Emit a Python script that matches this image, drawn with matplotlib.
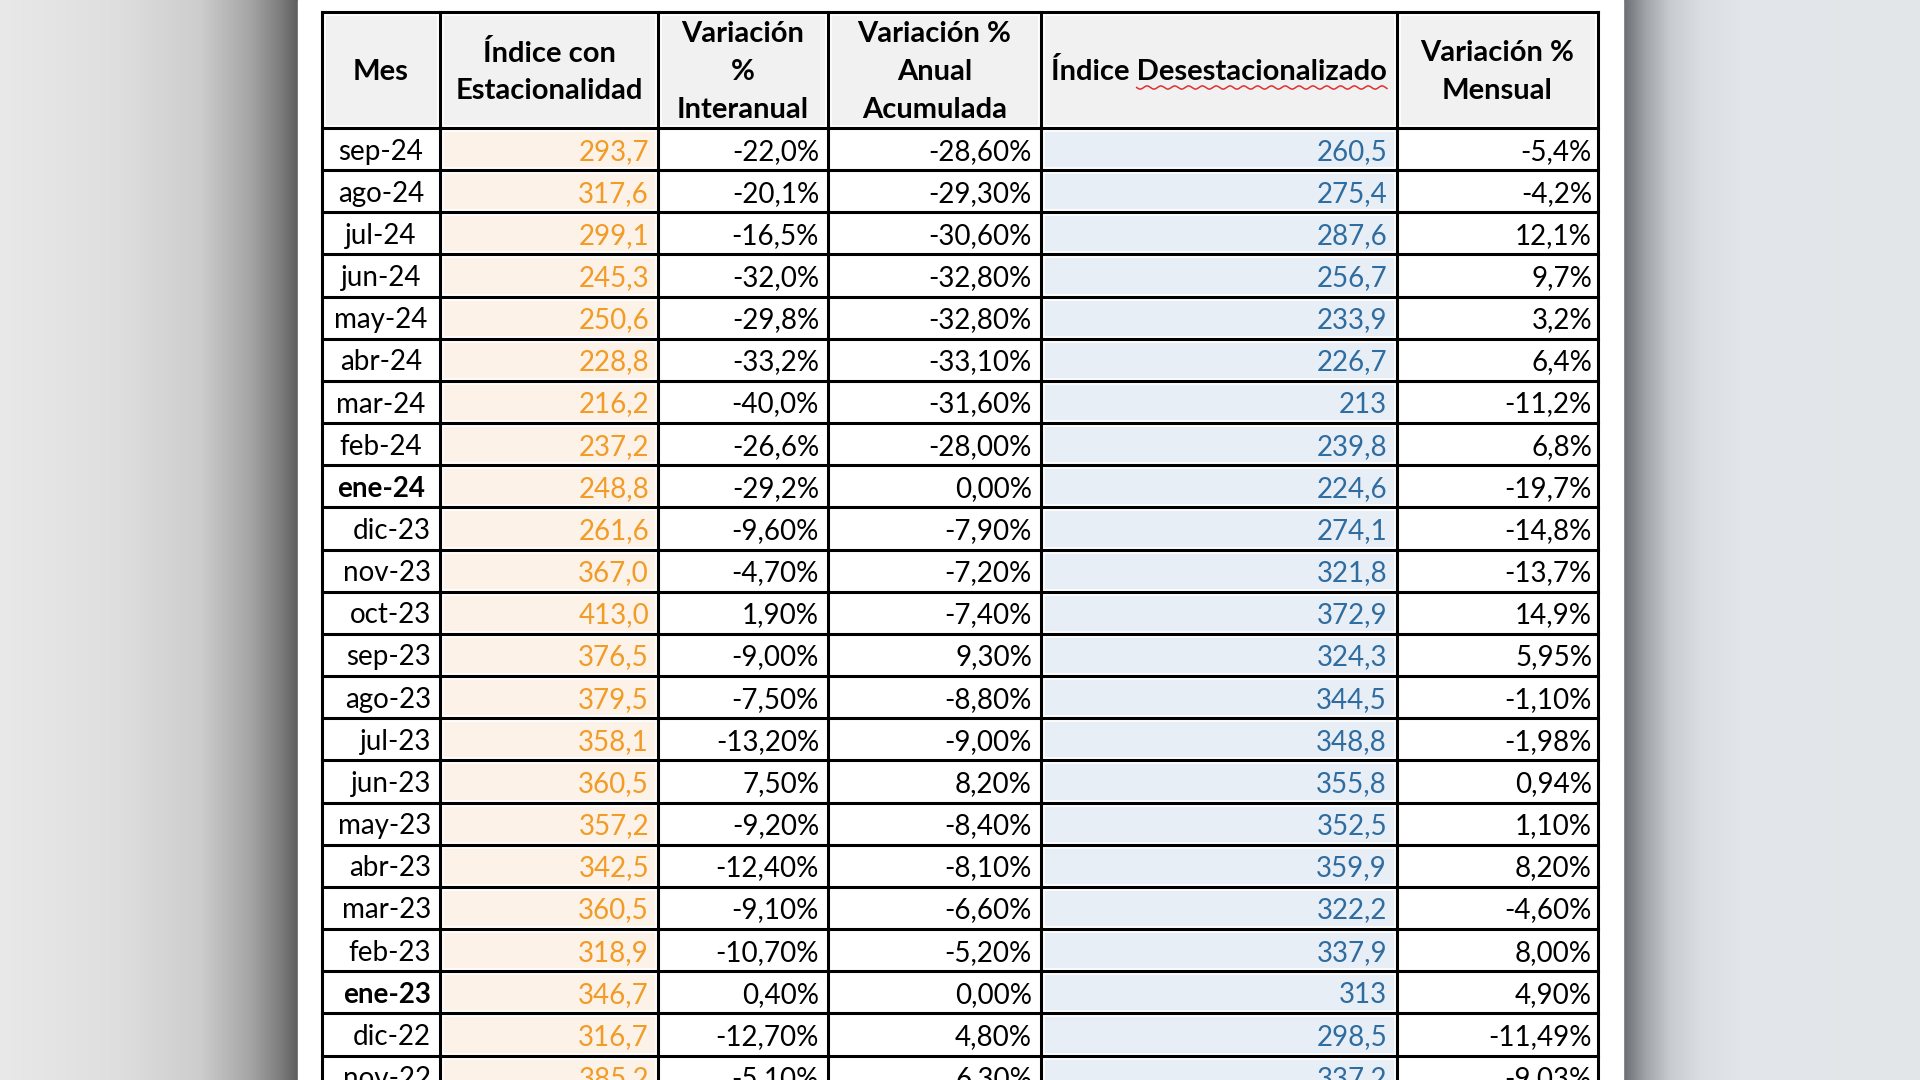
"""
Tabla del indice (con estacionalidad / desestacionalizado) sep-22 a sep-24,
reproducida como figura 1920x1080 en out.png.
"""

import matplotlib.pyplot as plt
import numpy as np
from matplotlib.patches import Rectangle

plt.rcParams["font.family"] = ["Liberation Sans Narrow", "Lato", "DejaVu Sans"]

# ---------------------------------------------------------------------------
# Datos
# ---------------------------------------------------------------------------

HEADERS = [
    "Mes",
    "Índice con\nEstacionalidad",
    "Variación\n%\nInteranual",
    "Variación %\nAnual\nAcumulada",
    "Índice Desestacionalizado",
    "Variación %\nMensual",
]

MESES = ["sep-24", "ago-24", "jul-24", "jun-24", "may-24", "abr-24", "mar-24",
         "feb-24", "ene-24", "dic-23", "nov-23", "oct-23", "sep-23", "ago-23",
         "jul-23", "jun-23", "may-23", "abr-23", "mar-23", "feb-23", "ene-23",
         "dic-22", "nov-22"]

INDICE_ESTAC = ["293,7", "317,6", "299,1", "245,3", "250,6", "228,8", "216,2",
                "237,2", "248,8", "261,6", "367,0", "413,0", "376,5", "379,5",
                "358,1", "360,5", "357,2", "342,5", "360,5", "318,9", "346,7",
                "316,7", "385,2"]

VAR_INTERANUAL = ["-22,0%", "-20,1%", "-16,5%", "-32,0%", "-29,8%", "-33,2%",
                  "-40,0%", "-26,6%", "-29,2%", "-9,60%", "-4,70%", "1,90%",
                  "-9,00%", "-7,50%", "-13,20%", "7,50%", "-9,20%", "-12,40%",
                  "-9,10%", "-10,70%", "0,40%", "-12,70%", "-5,10%"]

VAR_ACUMULADA = ["-28,60%", "-29,30%", "-30,60%", "-32,80%", "-32,80%",
                 "-33,10%", "-31,60%", "-28,00%", "0,00%", "-7,90%", "-7,20%",
                 "-7,40%", "9,30%", "-8,80%", "-9,00%", "8,20%", "-8,40%",
                 "-8,10%", "-6,60%", "-5,20%", "0,00%", "4,80%", "6,30%"]

INDICE_DESEST = ["260,5", "275,4", "287,6", "256,7", "233,9", "226,7", "213",
                 "239,8", "224,6", "274,1", "321,8", "372,9", "324,3", "344,5",
                 "348,8", "355,8", "352,5", "359,9", "322,2", "337,9", "313",
                 "298,5", "337,2"]

VAR_MENSUAL = ["-5,4%", "-4,2%", "12,1%", "9,7%", "3,2%", "6,4%", "-11,2%",
               "6,8%", "-19,7%", "-14,8%", "-13,7%", "14,9%", "5,95%",
               "-1,10%", "-1,98%", "0,94%", "1,10%", "8,20%", "-4,60%",
               "8,00%", "4,90%", "-11,49%", "-9,03%"]

# ---------------------------------------------------------------------------
# Geometria y estilo (pixeles de la imagen)
# ---------------------------------------------------------------------------

W, H = 1920, 1080
PANEL_X0, PANEL_X1 = 298, 1623
COL_EDGES = [322, 440, 658, 828, 1041, 1397, 1598]
TOP, HEADER_BOTTOM = 12, 128
ROW_H = 42.16
LINE_W = 2.2
INSET = 4
FS = 20
FS_HEAD = 21

ORANGE = "#f29b26"
BLUE = "#2f6c9f"
BEIGE = "#fcf2e8"
LIGHT_BLUE = "#e8eef6"
HEADER_BG = "#f1f1f1"


def gradient(ax, x0, x1, stops_x, stops_rgb):
    xs = np.arange(x0, x1 + 1)
    img = np.stack([np.interp(xs, stops_x, [c[i] for c in stops_rgb])
                    for i in range(3)], axis=-1)[None, :, :] / 255.0
    ax.imshow(img, extent=(x0, x1 + 1, H, 0), aspect="auto",
              interpolation="bilinear", zorder=0)


def main():
    fig = plt.figure(figsize=(W / 100, H / 100), dpi=100)
    ax = fig.add_axes([0, 0, 1, 1])
    ax.set_xlim(0, W)
    ax.set_ylim(H, 0)
    ax.axis("off")

    # fondo con sombras laterales
    gradient(ax, 0, PANEL_X0,
             [0, 120, 200, 250, 280, 298],
             [(233, 233, 233), (222, 222, 222), (205, 205, 205),
              (165, 165, 165), (125, 125, 125), (92, 92, 92)])
    gradient(ax, PANEL_X1, W,
             [1623, 1645, 1670, 1700, 1740, 1920],
             [(105, 108, 113), (160, 163, 168), (200, 203, 207),
              (218, 221, 225), (226, 229, 233), (228, 231, 234)])
    ax.add_patch(Rectangle((PANEL_X0, 0), PANEL_X1 - PANEL_X0, H,
                           color="white", zorder=0.5))

    # cabecera
    for j in range(6):
        x0, x1 = COL_EDGES[j], COL_EDGES[j + 1]
        ax.add_patch(Rectangle((x0 + INSET, TOP + INSET),
                               x1 - x0 - 2 * INSET,
                               HEADER_BOTTOM - TOP - 2 * INSET,
                               color=HEADER_BG, zorder=1))
        ax.text((x0 + x1) / 2, (TOP + HEADER_BOTTOM) / 2 + 2, HEADERS[j],
                ha="center", va="center", fontsize=FS_HEAD, fontweight="bold",
                linespacing=1.55, zorder=3)

    # filas
    cols = [MESES, INDICE_ESTAC, VAR_INTERANUAL, VAR_ACUMULADA,
            INDICE_DESEST, VAR_MENSUAL]
    fills = [None, BEIGE, None, None, LIGHT_BLUE, None]
    colors = ["black", ORANGE, "black", "black", BLUE, "black"]
    pads = [9, 9, 9, 9, 10, 6]
    for i in range(len(MESES)):
        y0 = HEADER_BOTTOM + i * ROW_H
        yc = y0 + ROW_H / 2 + 2.5
        for j in range(6):
            x0, x1 = COL_EDGES[j], COL_EDGES[j + 1]
            if fills[j]:
                ax.add_patch(Rectangle((x0 + INSET, y0 + INSET),
                                       x1 - x0 - 2 * INSET, ROW_H - 2 * INSET,
                                       color=fills[j], zorder=1))
            txt = cols[j][i]
            weight = "normal"
            if j == 0:
                weight = "bold" if txt.startswith("ene") else "normal"
                if txt.endswith("24"):
                    ax.text((x0 + x1) / 2, yc, txt, ha="center", va="center",
                            fontsize=FS, fontweight=weight, zorder=3)
                    continue
            ax.text(x1 - pads[j], yc, txt, ha="right", va="center",
                    fontsize=FS, fontweight=weight, color=colors[j], zorder=3)

    # lineas de la tabla
    n_rows = len(MESES)
    bottom = HEADER_BOTTOM + (n_rows + 1) * ROW_H
    for x in COL_EDGES:
        ax.plot([x, x], [TOP, bottom], color="black", lw=LINE_W, zorder=4,
                solid_capstyle="projecting")
    ys = [TOP] + [HEADER_BOTTOM + k * ROW_H for k in range(n_rows + 1)]
    for y in ys:
        ax.plot([COL_EDGES[0], COL_EDGES[-1]], [y, y], color="black",
                lw=LINE_W, zorder=4, solid_capstyle="projecting")

    # subrayado ondulado del corrector bajo "Desestacionalizado"
    fig.canvas.draw()
    renderer = fig.canvas.get_renderer()
    head = [t for t in ax.texts if t.get_text() == HEADERS[4]][0]
    bb = head.get_window_extent(renderer)
    probe = ax.text(0, 0, "Desestacionalizado", fontsize=FS_HEAD,
                    fontweight="bold")
    w_word = probe.get_window_extent(renderer).width
    probe.remove()
    inv = ax.transData.inverted()
    (xr, yb), = inv.transform([(bb.x1, bb.y0)])
    xs = np.linspace(xr - w_word, xr, 400)
    ax.plot(xs, yb + 2 + 1.6 * np.sin((xs - xs[0]) / 2.2), color="#e03030",
            lw=1.1, zorder=5)

    fig.savefig("out.png", dpi=100)
    plt.close(fig)


if __name__ == "__main__":
    main()
